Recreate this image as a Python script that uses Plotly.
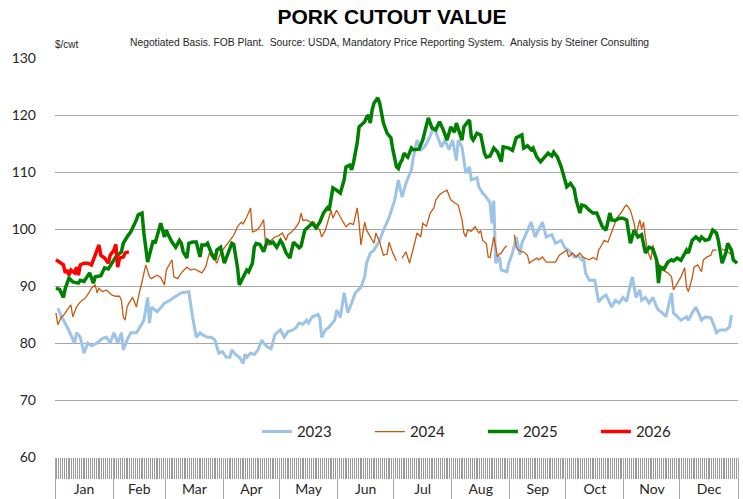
import plotly.graph_objects as go

# day of year / $ per cwt
days_2023 = [2, 4, 7, 11, 12, 14, 16, 18, 20, 23, 26, 28, 30, 32, 34, 36, 37, 39, 41, 44, 45, 48, 50, 51, 52, 55, 57,
             59, 62, 64, 68, 72, 74, 76, 78, 79, 82, 84, 86, 87, 88, 90, 92, 94, 95, 97, 99, 101, 102, 103, 105, 107,
             109, 111, 112, 114, 116, 118, 119, 121, 123, 125, 127, 129, 131, 133, 135, 136, 138, 141, 142, 143, 145,
             147, 150, 151, 153, 155, 157, 159, 161, 164, 166, 167, 169, 171, 174, 176, 179, 182, 184, 186, 188, 191,
             192, 194, 196, 198, 200, 203, 205, 207, 209, 211, 213, 215, 216, 218, 220, 222, 223, 226, 227, 229, 231,
             233, 234, 235, 236, 238, 239, 242, 243, 245, 247, 249, 250, 253, 255, 257, 259, 261, 263, 266, 268, 271,
             273, 275, 278, 280, 282, 283, 284, 286, 289, 291, 293, 295, 297, 298, 300, 302, 304, 306, 307, 309, 311,
             313, 314, 316, 318, 320, 322, 323, 325, 327, 329, 330, 331, 333, 335, 338, 339, 341, 343, 345, 346, 348,
             351, 353, 354, 356, 359, 361, 362]
cutout_2023 = [86.1, 84.6, 82.8, 80.0, 81.8, 81.0, 78.2, 80.0, 79.5, 80.0, 80.8, 81.0, 80.0, 81.8, 80.0, 81.8, 78.8,
               80.5, 81.8, 81.8, 82.3, 84.0, 88.0, 83.5, 86.3, 85.5, 86.2, 87.0, 87.5, 88.0, 88.8, 89.0, 84.6, 81.0,
               81.8, 81.5, 81.0, 81.0, 80.5, 79.3, 78.2, 78.5, 77.5, 77.5, 78.8, 78.0, 77.5, 76.4, 78.0, 77.5, 78.2,
               78.0, 78.8, 80.5, 80.0, 79.3, 79.0, 81.4, 81.8, 82.3, 81.0, 82.0, 82.2, 82.6, 83.5, 83.3, 84.0, 83.5,
               84.6, 85.0, 84.4, 81.0, 82.3, 82.8, 84.0, 85.8, 84.5, 88.8, 85.3, 87.0, 88.8, 89.8, 91.6, 94.0, 95.8,
               96.3, 98.0, 99.8, 102.0, 105.0, 108.6, 105.6, 108.0, 110.4, 112.6, 115.6, 113.9, 114.4, 115.6, 117.9,
               116.0, 114.4, 115.6, 113.9, 115.6, 112.0, 115.6, 114.4, 109.8, 110.9, 108.6, 109.0, 107.4, 106.3, 105.6,
               104.6, 101.0, 105.0, 94.0, 95.1, 92.8, 92.5, 94.0, 95.8, 98.6, 95.5, 97.5, 99.8, 101.2, 98.6, 99.8,
               101.2, 98.6, 99.0, 97.5, 98.0, 96.7, 96.3, 95.1, 95.3, 94.6, 95.0, 92.3, 91.0, 91.0, 87.2, 88.0, 88.4,
               87.0, 86.3, 87.5, 87.0, 88.0, 87.3, 88.8, 91.6, 88.0, 89.3, 87.5, 88.0, 87.0, 88.0, 86.3, 85.8, 85.3,
               84.6, 87.5, 88.8, 85.3, 84.6, 84.0, 84.6, 84.0, 85.3, 86.3, 84.8, 84.0, 84.6, 84.4, 82.8, 81.8, 82.3,
               82.3, 82.8, 84.9]

days_2024 = [1, 2, 4, 5, 7, 9, 10, 12, 14, 17, 19, 20, 22, 23, 24, 26, 28, 29, 31, 33, 35, 36, 37, 38, 39, 40, 42, 44,
             45, 47, 49, 51, 52, 55, 57, 59, 60, 63, 64, 66, 68, 71, 73, 75, 78, 79, 81, 83, 84, 86, 87, 89, 91, 92, 94,
             96, 98, 100, 101, 103, 105, 106, 108, 110, 112, 113, 115, 116, 118, 120, 122, 124, 125, 127, 129, 131, 132,
             133, 135, 137, 139, 140, 142, 143, 145, 147, 148, 149, 151, 153, 156, 158, 160, 162, 163, 164, 166, 167,
             169, 171, 172, 174, 176, 178, 179, 181, 183, 184.5, 186, 188, 190, 192, 194, 196, 197, 199, 201, 203, 204,
             206, 208, 210, 212, 214, 216, 218, 219, 220, 221, 223, 225, 227, 228, 229, 231, 232, 233, 235, 236, 237,
             238, 239, 241, 242, 244, 246, 247, 248, 250, 251, 253, 254, 255, 258, 259, 261, 263, 266, 268, 270, 272,
             274, 275, 277, 279, 281, 282, 283, 286, 288, 290, 291, 292, 294, 296, 298, 299, 301, 303, 305, 306, 308,
             309, 310, 311, 313, 314, 315, 316, 317, 319, 320, 322, 323, 325, 328, 330, 331, 333, 335, 337, 338, 339,
             341, 342, 344, 346, 347, 349, 351, 352, 354, 355.5, 357, 360, 362, 363]
cutout_2024 = [85.3, 83.2, 84.6, 84.8, 85.8, 86.7, 84.6, 86.3, 87.2, 88.0, 89.0, 89.6, 90.2, 88.8, 89.6, 89.0, 89.3,
               89.0, 88.4, 88.2, 88.2, 87.5, 84.6, 84.0, 86.3, 87.0, 88.0, 86.3, 88.0, 90.7, 93.7, 91.6, 91.3, 91.9,
               91.5, 90.2, 92.8, 94.6, 91.6, 91.3, 92.3, 93.3, 92.8, 93.0, 92.5, 92.3, 93.3, 95.8, 95.2, 94.6, 94.0,
               95.8, 96.7, 97.2, 98.0, 98.9, 100.4, 101.2, 100.9, 102.1, 103.7, 99.5, 99.7, 100.4, 101.6, 97.5, 97.2,
               98.0, 98.6, 98.8, 99.3, 98.0, 99.0, 99.5, 100.2, 101.2, 102.8, 101.5, 101.6, 101.2, 101.2, 100.5, 99.8,
               98.6, 99.8, 102.1, 103.3, 101.9, 103.3, 102.1, 100.4, 101.0, 100.8, 103.7, 101.0, 97.2, 101.2, 99.8,
               98.6, 97.5, 99.3, 97.7, 95.4, 95.6, 97.7, 95.8, 94.4, None, 94.9, 96.0, 94.0, 96.8, 99.3, 98.6, 101.0,
               100.5, 102.8, 103.7, 105.1, 106.0, 106.5, 106.8, 105.1, 104.6, 104.2, 101.6, 99.3, 98.6, 99.8, 99.6,
               100.4, 99.3, 99.7, 98.0, 97.5, 95.1, 95.0, 98.6, 96.8, 95.1, 95.6, 95.8, 96.8, 97.0, None, 99.0, 96.8,
               96.3, 96.0, 96.0, 95.4, 94.0, 94.3, 94.9, 94.6, 95.1, 94.2, 94.2, 94.2, 95.4, 95.8, 96.3, 95.1, 95.8,
               95.1, 95.8, 95.3, 95.0, 94.6, 95.0, 94.6, 96.3, 96.8, 98.0, 97.7, 99.3, 100.4, 102.1, 102.8, 103.9,
               104.2, 103.3, 102.1, 101.0, 98.9, 101.6, 100.0, 101.2, 98.6, 96.3, 94.6, 97.2, 94.6, 94.0, 92.8, 92.3,
               91.6, 89.3, 90.5, 91.6, 93.2, 89.8, 89.0, 91.4, 93.3, 93.7, 92.5, 94.6, 95.1, 95.4, 96.3, 96.3, None,
               96.5, 96.0, 95.5, 94.2]

days_2025 = [1, 3, 5, 6, 8, 10, 13, 14, 16, 19, 21, 22, 25, 27, 29, 31, 33, 36, 37, 39, 41, 44, 45, 47, 48, 50, 52, 53,
             54, 57, 59, 60, 61, 63, 65, 67, 68, 69, 71, 72, 74, 76, 78, 79, 81, 82, 84, 86, 87, 89, 91, 93, 95, 96, 98,
             99, 101, 103, 104, 106, 107, 108, 110, 112, 114, 116, 117, 119, 121, 122, 124, 126, 128, 131, 132, 134,
             136, 138, 140, 142, 144, 146, 147, 148, 149, 151, 153, 155, 156, 158, 159, 160, 161, 162, 163, 165, 166,
             167, 168, 169, 170, 171, 173, 174, 175, 176, 178, 180, 181, 182, 183, 184, 185, 186, 187, 189, 191, 192,
             195, 197, 199, 200, 202, 204, 206, 208, 210, 212, 214, 215, 218, 219, 221, 222, 223, 224, 226, 228, 230,
             231, 233, 235, 237, 239, 240, 243, 245, 246, 247, 250, 251, 253, 255, 256, 258, 260, 262, 264, 266, 267,
             269, 271, 273, 274, 276, 278, 279, 281, 282, 284, 286, 288, 290, 291, 293, 295, 297, 298, 300, 302, 304,
             306, 307, 308, 310, 312, 314, 315, 316, 318, 320, 322, 323, 324, 326, 328, 330, 331, 333, 335, 337, 338,
             339, 341, 343, 345, 346, 348, 350, 352, 354, 355, 357, 359, 360, 362, 363, 365]
cutout_2025 = [89.6, 89.4, 88.0, 89.6, 91.4, 90.7, 90.5, 91.0, 90.8, 92.3, 90.5, 91.6, 91.8, 93.2, 93.0, 94.2, 95.1,
               96.0, 97.5, 98.6, 99.5, 101.6, 102.5, 102.8, 99.3, 94.2, 96.8, 98.0, 97.5, 101.0, 98.6, 99.8, 99.0,
               97.7, 96.8, 98.0, 97.5, 96.0, 94.9, 97.5, 97.7, 97.7, 95.1, 97.2, 97.2, 97.5, 95.8, 94.6, 96.3, 96.8,
               94.0, 95.8, 97.5, 97.3, 93.3, 90.2, 91.6, 92.8, 92.5, 94.0, 96.8, 97.5, 97.3, 96.0, 98.0, 97.5, 97.7,
               96.8, 98.0, 97.5, 95.8, 94.9, 97.7, 96.7, 97.0, 99.8, 100.4, 101.0, 100.2, 101.2, 102.8, 103.7, 103.3,
               105.1, 107.2, 106.8, 106.3, 108.6, 110.9, 111.2, 110.4, 111.6, 113.3, 115.1, 117.9, 118.6, 118.8, 119.6,
               120.0, 118.6, 120.9, 122.1, 123.0, 122.1, 120.4, 118.6, 116.8, 116.0, 114.0, 112.6, 110.9, 110.6, 111.6,
               112.1, 113.3, 112.6, 114.2, 113.9, 114.0, 115.6, 118.6, 119.5, 117.7, 117.4, 118.8, 117.4, 115.6, 117.9,
               117.0, 118.6, 115.6, 117.9, 118.8, 119.1, 116.1, 115.6, 116.8, 116.5, 113.3, 112.6, 112.8, 114.2, 113.5,
               111.8, 114.4, 114.2, 113.8, 115.1, 116.0, 116.5, 114.2, 114.6, 113.9, 114.2, 112.6, 111.8, 112.6, 113.3,
               112.8, 113.5, 112.6, 110.9, 108.6, 107.4, 108.0, 107.0, 105.1, 102.8, 104.2, 104.0, 103.3, 102.8, 102.8,
               102.1, 100.4, 99.8, 102.8, 101.6, 101.5, 101.9, 101.9, 101.6, 99.3, 97.5, 99.8, 98.6, 99.0, 97.5, 95.8,
               96.8, 96.5, 94.6, 90.5, 93.3, 93.0, 94.2, 94.6, 94.4, 94.9, 94.5, 95.8, 96.3, 95.8, 98.0, 98.6, 98.0,
               98.6, 98.0, 98.2, 99.8, 99.3, 98.0, 94.0, 95.8, 97.5, 96.3, 94.6, 94.0]

days_2026 = [1, 3, 5, 6, 7, 8, 9, 11, 12, 13, 14, 16, 18, 20, 21, 24, 25, 27, 29, 30, 32, 33, 34, 35, 37, 38, 40]
cutout_2026 = [94.6, 94.2, 93.7, 92.3, 92.8, 91.9, 92.8, 92.3, 93.3, 91.9, 93.7, 94.0, 94.0, 93.7, 94.6, 97.2, 95.4,
               94.9, 94.0, 95.4, 96.3, 97.3, 93.3, 94.9, 95.1, 95.8, 96.0]

months = ['Jan', 'Feb', 'Mar', 'Apr', 'May', 'Jun', 'Jul', 'Aug', 'Sep', 'Oct', 'Nov', 'Dec']
month_days = [31, 28, 31, 30, 31, 30, 31, 31, 30, 31, 30, 31]

# month boundaries and centres on the day-of-year axis
month_edges = [0.5]
for n in month_days:
    month_edges.append(month_edges[-1] + n)
month_mids = [(a + b) / 2 for a, b in zip(month_edges[:-1], month_edges[1:])]

fig = go.Figure()
fig.add_trace(go.Scatter(x=days_2023, y=cutout_2023, mode='lines', name='2023',
                         line=dict(width=3, color='#9DC3E6')))
fig.add_trace(go.Scatter(x=days_2024, y=cutout_2024, mode='lines', name='2024',
                         line=dict(width=1.3, color='#C55A11')))
fig.add_trace(go.Scatter(x=days_2025, y=cutout_2025, mode='lines', name='2025',
                         line=dict(width=3.5, color='#008000')))
fig.add_trace(go.Scatter(x=days_2026, y=cutout_2026, mode='lines', name='2026',
                         line=dict(width=3.5, color='#FF0000')))
# invisible trace to carry the month label axis
fig.add_trace(go.Scatter(x=[month_edges[0], month_edges[-1]], y=[None, None], xaxis='x2',
                         showlegend=False, hoverinfo='skip'))

tick_font = dict(family='Lato, Liberation Sans, sans-serif', size=14, color='#262626')

fig.update_layout(
    width=743, height=499,
    margin=dict(l=55, r=5, t=58, b=42, autoexpand=False),
    plot_bgcolor='white',
    paper_bgcolor='white',
    title=dict(text='<b>PORK CUTOUT VALUE</b>', x=0.4934, xref='paper', y=0.966, yanchor='middle',
               font=dict(family='Liberation Sans, Arial, sans-serif', size=21, color='black')),
    xaxis=dict(range=[month_edges[0], month_edges[-1]], tickmode='array', tickvals=month_edges,
               ticks='outside', ticklen=42, tickcolor='#A6A6A6', tickwidth=1,
               showticklabels=False, showgrid=False, zeroline=False, showline=False,
               minor=dict(ticks='outside', tickmode='linear', tick0=0.5, dtick=1, ticklen=21,
                          tickcolor='#9A9A9A', tickwidth=1, showgrid=False)),
    xaxis2=dict(range=[month_edges[0], month_edges[-1]], overlaying='x', anchor='y', side='bottom',
                tickmode='array', tickvals=month_mids, ticktext=months, ticks='',
                ticklabelstandoff=22, tickfont=tick_font, showgrid=False, zeroline=False,
                showline=False),
    yaxis=dict(range=[60, 130], dtick=10, tick0=60, showgrid=True, gridcolor='#A6A6A6', gridwidth=1,
               zeroline=False, showline=False, ticks='', ticklabelstandoff=18, tickfont=tick_font),
    legend=dict(orientation='h', x=0.2956, xanchor='left', y=0.063, yanchor='middle',
                entrywidth=68, entrywidthmode='pixels', bgcolor='rgba(0,0,0,0)',
                font=dict(family='Lato, Liberation Sans, sans-serif', size=15, color='#262626')),
    annotations=[
        dict(text='Negotiated Basis. FOB Plant.  Source: USDA, Mandatory Price Reporting System.  '
                  'Analysis by Steiner Consulting',
             xref='paper', yref='paper', x=(128 - 55) / 683, y=1.038, xanchor='left', yanchor='middle',
             showarrow=False, font=dict(family='Liberation Sans, sans-serif', size=10.3, color='#262626')),
        dict(text='$/cwt', xref='paper', yref='paper', x=-0.003, y=1.035, xanchor='left',
             yanchor='middle', showarrow=False,
             font=dict(family='Liberation Sans, sans-serif', size=10, color='#262626')),
    ],
)

# drop the default page margin so the figure sits at the top-left corner
fig.write_html("out.html", config={'displayModeBar': False},
               post_script="document.body.style.margin='0';")
